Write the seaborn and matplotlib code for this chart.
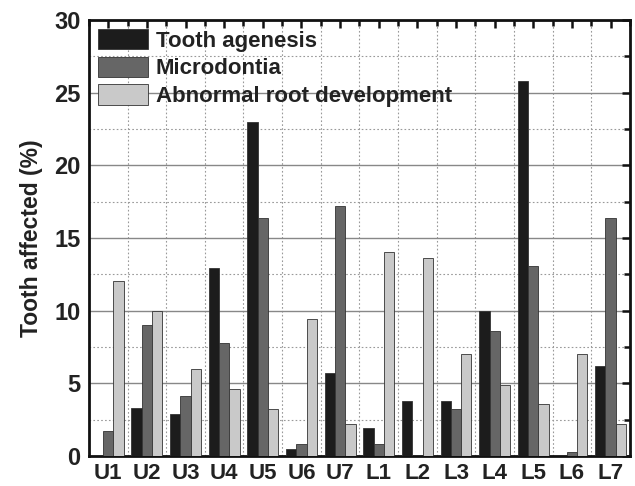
import numpy as np
import pandas as pd
import matplotlib
matplotlib.use("Agg")
import matplotlib.pyplot as plt
import seaborn as sns
from matplotlib.ticker import MultipleLocator, FixedLocator

teeth = ["U1", "U2", "U3", "U4", "U5", "U6", "U7",
         "L1", "L2", "L3", "L4", "L5", "L6", "L7"]
agenesis = [0.0, 3.3, 2.9, 12.9, 23.0, 0.5, 5.7, 1.9, 3.8, 3.8, 10.0, 25.8, 0.0, 6.2]
microdontia = [1.7, 9.0, 4.1, 7.8, 16.4, 0.8, 17.2, 0.8, 0.0, 3.2, 8.6, 13.1, 0.3, 16.4]
abnormal_root = [12.0, 10.0, 6.0, 4.6, 3.2, 9.4, 2.2, 14.0, 13.6, 7.0, 4.9, 3.6, 7.0, 2.2]

series = ["Tooth agenesis", "Microdontia", "Abnormal root development"]
colors = ["#1c1c1c", "#666666", "#c9c9c9"]

df = pd.concat([
    pd.DataFrame({"tooth": teeth, "value": agenesis, "type": series[0]}),
    pd.DataFrame({"tooth": teeth, "value": microdontia, "type": series[1]}),
    pd.DataFrame({"tooth": teeth, "value": abnormal_root, "type": series[2]}),
])

sns.set_style("white")
plt.rcParams['font.family'] = ['Liberation Sans', 'DejaVu Sans']
plt.rcParams['font.weight'] = 'bold'

fig = plt.figure(figsize=(6.35, 4.86), dpi=100)
ax = fig.add_axes([0.140, 0.062, 0.852, 0.897])

sns.barplot(data=df, x="tooth", y="value", hue="type", palette=colors,
            width=0.8, edgecolor="#333333", linewidth=0.6, ax=ax, zorder=3)

ax.set_ylim(0, 30)
ax.set_xlim(-0.5, len(teeth) - 0.5)
ax.yaxis.set_major_locator(MultipleLocator(5))
ax.yaxis.set_minor_locator(MultipleLocator(2.5))
ax.xaxis.set_minor_locator(FixedLocator(np.arange(-0.5, len(teeth), 1.0)))

ax.grid(which="major", axis="y", color="#888888", linewidth=1.0, linestyle="-", zorder=0)
ax.grid(which="minor", axis="y", color="#999999", linewidth=0.8, linestyle=(0, (1.5, 2)), zorder=0)
ax.grid(which="minor", axis="x", color="#999999", linewidth=0.8, linestyle=(0, (1.5, 2)), zorder=0)
ax.grid(which="major", axis="x", visible=False)
ax.set_axisbelow(True)

for s in ax.spines.values():
    s.set_linewidth(2.0)
    s.set_color("#111111")

ax.tick_params(axis="both", which="both", direction="in", top=True, right=True,
               color="#111111", width=1.8)
ax.tick_params(axis="both", which="major", length=6)
ax.tick_params(axis="both", which="minor", length=4)
ax.tick_params(axis="x", which="major", labelsize=16, pad=5)
ax.tick_params(axis="y", which="major", labelsize=17, pad=6)
for lab in ax.get_xticklabels() + ax.get_yticklabels():
    lab.set_fontweight("bold")
    lab.set_color("#222222")

ax.set_xlabel("")
ax.set_ylabel("Tooth affected (%)", fontsize=16.5, fontweight="bold", color="#222222", labelpad=8)

leg = ax.legend(loc="upper left", frameon=False, handlelength=2.25,
                handleheight=1.05, handletextpad=0.35, labelspacing=0.22,
                borderaxespad=0.1, borderpad=0.3,
                prop={"weight": "bold", "size": 16})
for t in leg.get_texts():
    t.set_color("#222222")

fig.savefig("out.png", dpi=100)
